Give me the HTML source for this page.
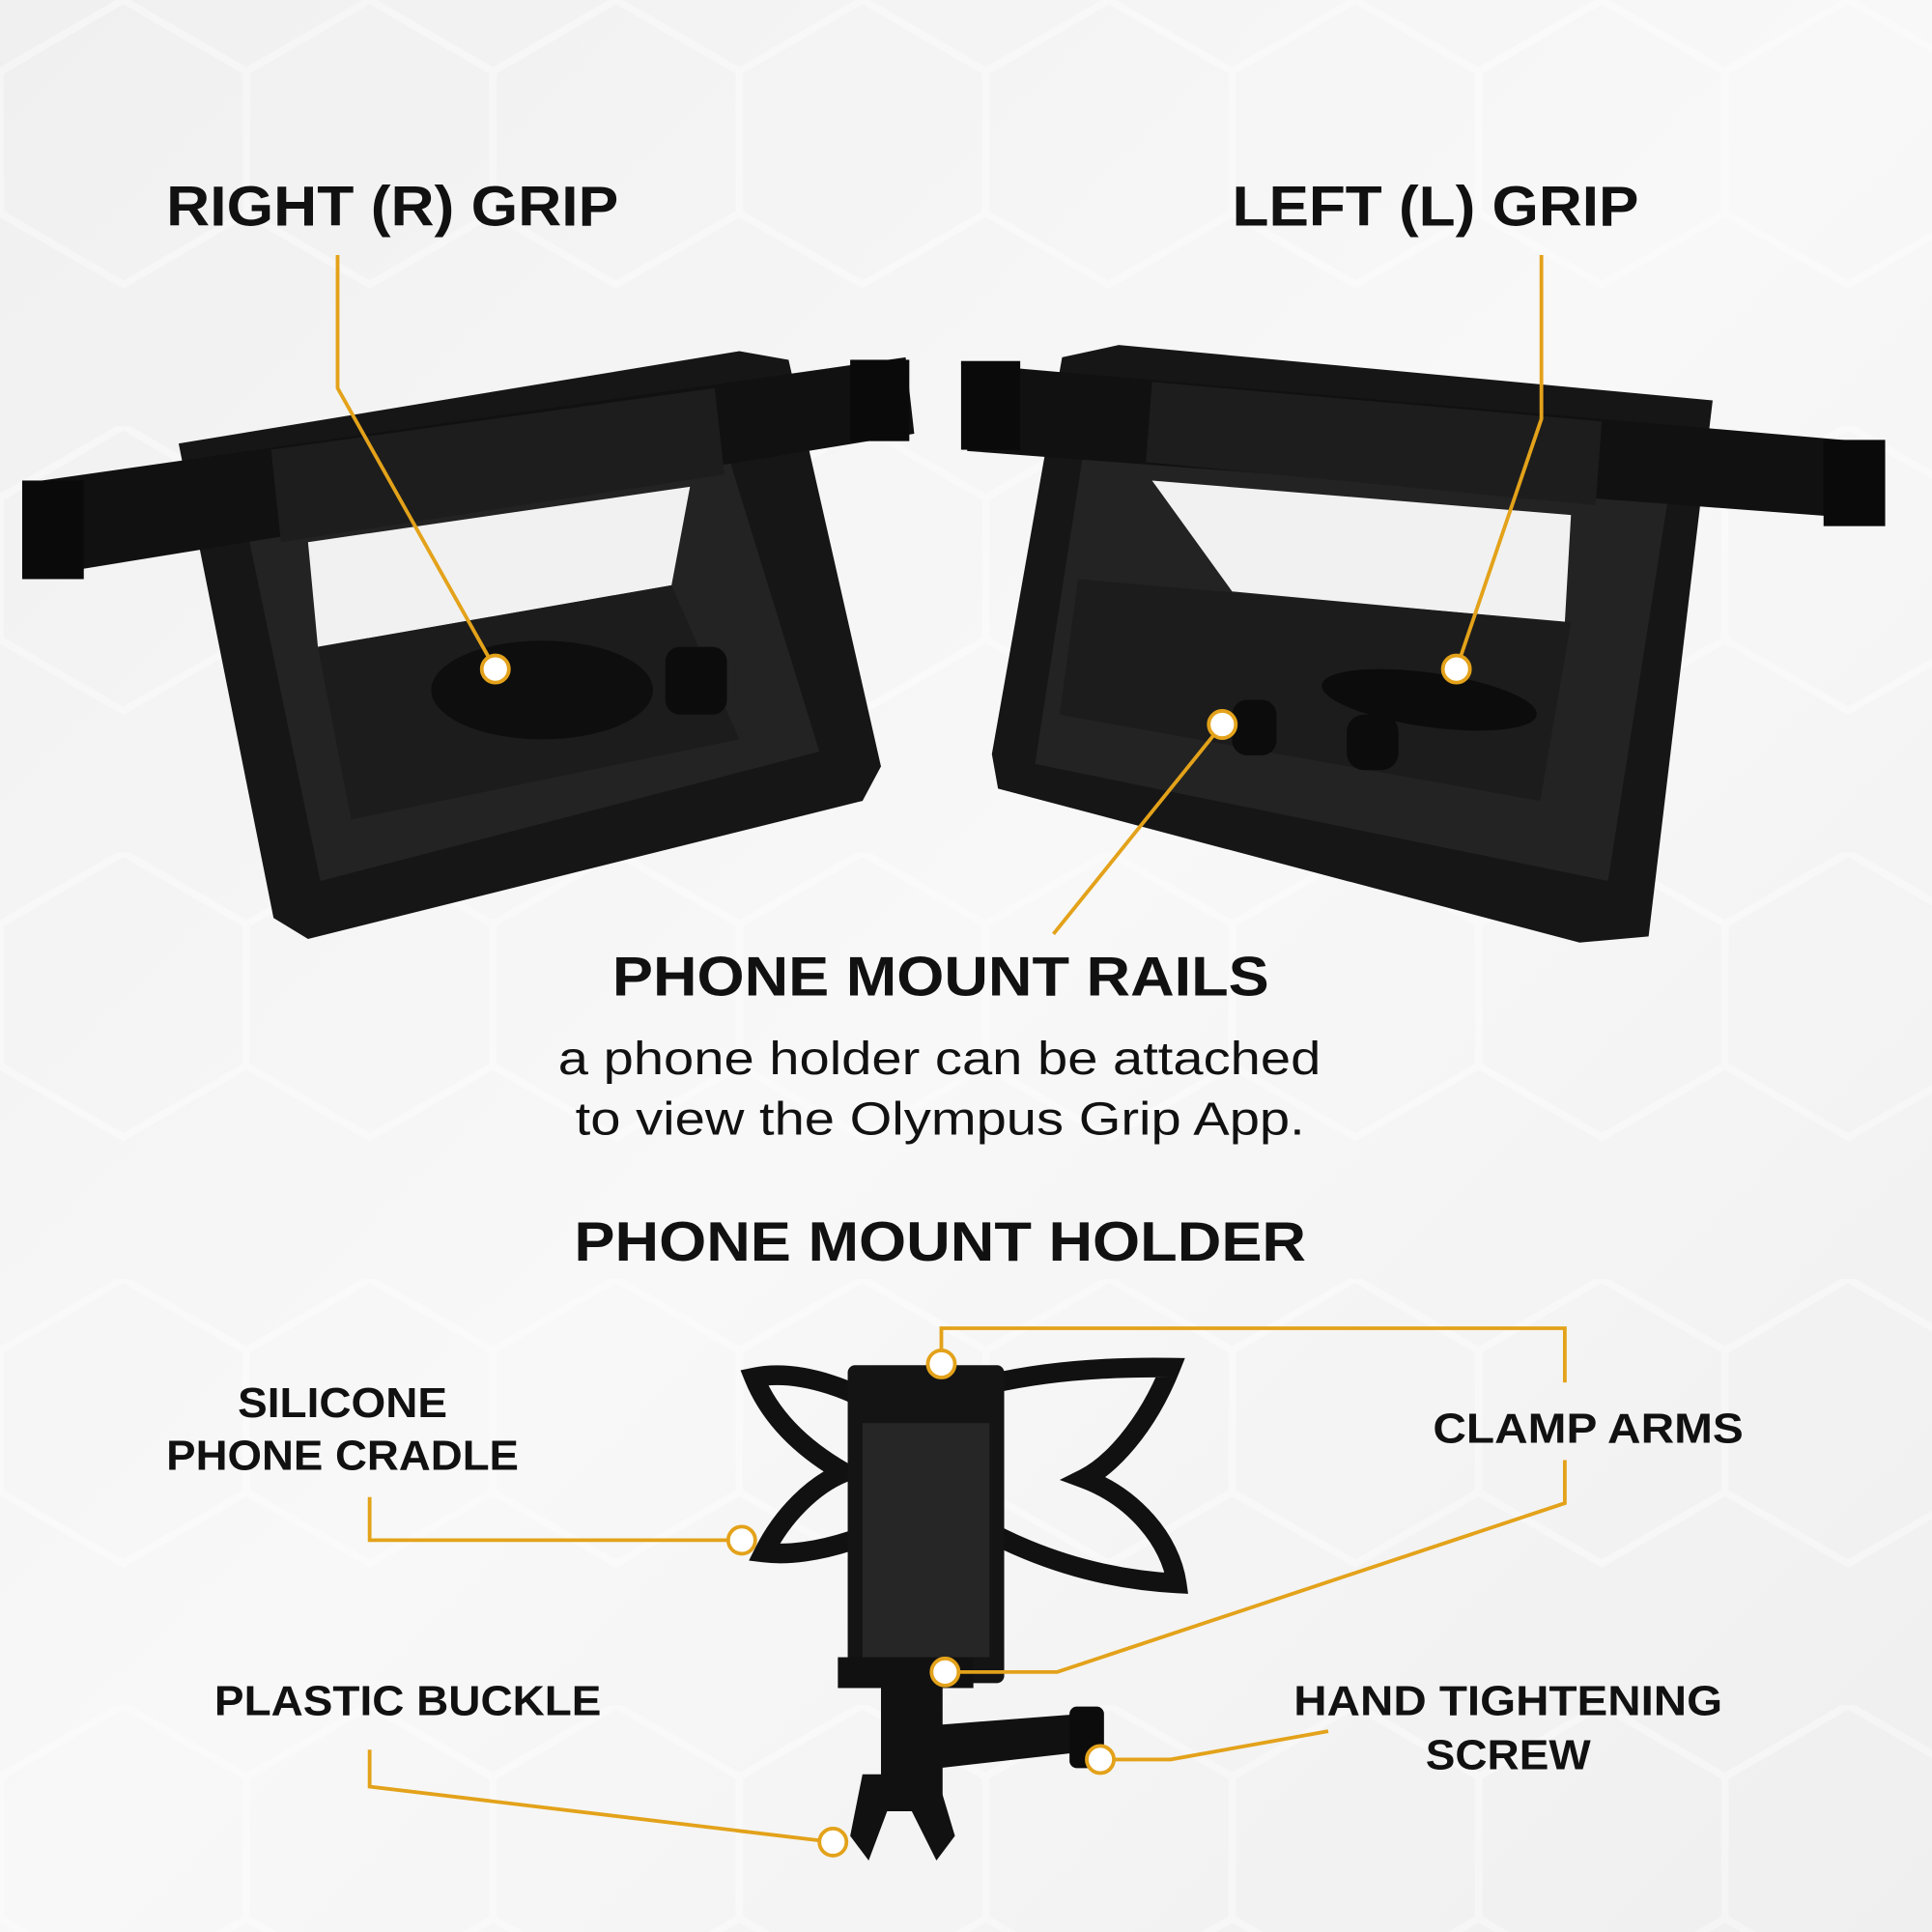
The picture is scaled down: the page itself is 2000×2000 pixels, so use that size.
<!DOCTYPE html>
<html><head><meta charset="utf-8"><style>
html,body{margin:0;padding:0;background:#f4f4f4;}
svg{display:block;}
.h{font-family:"Liberation Sans",sans-serif;font-weight:bold;fill:#111;}
.r{font-family:"Liberation Sans",sans-serif;fill:#111;}
.ln{fill:none;stroke:#e3a21a;stroke-width:3;}
.dot{fill:#fff;stroke:#e3a21a;stroke-width:3;}
</style></head><body>
<svg width="2000" height="2000" viewBox="0 0 1568 1568" xmlns="http://www.w3.org/2000/svg">
<defs>
<linearGradient id="bg" x1="0" y1="0" x2="1" y2="1">
<stop offset="0" stop-color="#f0f0f0"/><stop offset="0.5" stop-color="#f8f8f8"/><stop offset="1" stop-color="#efefef"/></linearGradient>
<pattern id="hex" width="200" height="346" patternUnits="userSpaceOnUse">
<path d="M100 0 L200 58 L200 173 L100 231 L0 173 L0 58 Z" fill="none" stroke="#ffffff" stroke-width="6"/>
</pattern>
</defs>
<rect width="1568" height="1568" fill="url(#bg)"/>
<rect width="1568" height="1568" fill="url(#hex)" opacity="0.35"/>

<!-- Right grip device (left) -->
<polygon points="145,360 600,285 640,292 715,622 700,650 250,762 222,745" fill="#161616"/>
<polygon points="190,380 575,318 665,610 260,715" fill="#232323"/>
<polygon points="250,440 560,395 545,475 258,525" fill="#f1f1f1"/>
<polygon points="258,525 545,475 600,600 285,665" fill="#1c1c1c"/>
<ellipse cx="440" cy="560" rx="90" ry="40" fill="#0e0e0e"/>
<rect x="540" y="525" width="50" height="55" rx="12" fill="#0c0c0c"/>
<polygon points="20,392 735,290 742,352 28,468" fill="#111"/>
<polygon points="220,365 580,315 588,385 228,440" fill="#1d1d1d"/>
<rect x="18" y="390" width="50" height="80" fill="#0a0a0a"/>
<rect x="690" y="292" width="48" height="66" fill="#0a0a0a"/>

<!-- Left grip device (right) -->
<polygon points="862,290 908,280 1390,325 1338,760 1282,765 810,640 805,612" fill="#161616"/>
<polygon points="885,330 1360,365 1305,715 840,620" fill="#232323"/>
<polygon points="935,390 1275,418 1270,505 1000,480" fill="#f1f1f1"/>
<polygon points="875,470 1275,505 1250,650 860,580" fill="#1c1c1c"/>
<ellipse cx="1160" cy="568" rx="88" ry="22" fill="#0c0c0c" transform="rotate(8 1160 568)"/>
<rect x="1000" y="568" width="36" height="45" rx="12" fill="#0c0c0c"/>
<rect x="1093" y="580" width="42" height="45" rx="14" fill="#0c0c0c"/>
<polygon points="780,295 1530,360 1525,422 785,366" fill="#111"/>
<polygon points="935,310 1300,342 1295,410 930,375" fill="#1d1d1d"/>
<rect x="780" y="293" width="48" height="72" fill="#0a0a0a"/>
<rect x="1480" y="357" width="50" height="70" fill="#0a0a0a"/>

<!-- Phone holder -->
<path d="M612,1118 C650,1110 700,1130 725,1150 C760,1135 820,1108 950,1110 C930,1160 900,1190 880,1200 C920,1215 950,1250 955,1285 C860,1280 790,1240 760,1215 C720,1245 660,1265 620,1260 C635,1230 660,1205 685,1195 C650,1175 625,1150 612,1118 Z" fill="none" stroke="#111" stroke-width="16"/>
<rect x="688" y="1108" width="127" height="258" rx="6" fill="#141414"/>
<rect x="700" y="1155" width="103" height="190" fill="#262626"/>
<rect x="715" y="1355" width="50" height="105" fill="#111"/>
<rect x="680" y="1345" width="110" height="25" fill="#111"/>
<polygon points="760,1400 890,1390 895,1420 762,1435" fill="#111"/>
<rect x="868" y="1385" width="28" height="50" rx="6" fill="#0c0c0c"/>
<path d="M700,1440 L760,1440 L775,1490 L760,1510 L740,1470 L720,1470 L705,1510 L690,1490 Z" fill="#111"/>

<!-- connectors -->
<polyline class="ln" points="274,207 274,315 402,543"/>
<circle class="dot" cx="402" cy="543" r="11"/>
<polyline class="ln" points="1251,207 1251,340 1182,543"/>
<circle class="dot" cx="1182" cy="543" r="11"/>
<polyline class="ln" points="855,758 992,588"/>
<circle class="dot" cx="992" cy="588" r="11"/>
<polyline class="ln" points="764,1107 764,1078 1270,1078 1270,1122"/>
<circle class="dot" cx="764" cy="1107" r="11"/>
<polyline class="ln" points="1270,1185 1270,1220 858,1357 767,1357"/>
<circle class="dot" cx="767" cy="1357" r="11"/>
<polyline class="ln" points="300,1215 300,1250 602,1250"/>
<circle class="dot" cx="602" cy="1250" r="11"/>
<polyline class="ln" points="300,1420 300,1450 676,1495"/>
<circle class="dot" cx="676" cy="1495" r="11"/>
<polyline class="ln" points="1078,1405 950,1428 893,1428"/>
<circle class="dot" cx="893" cy="1428" r="11"/>

<!-- text -->
<text class="h" x="135" y="183" font-size="46" textLength="367" lengthAdjust="spacingAndGlyphs">RIGHT (R) GRIP</text>
<text class="h" x="1000" y="183" font-size="46" textLength="330" lengthAdjust="spacingAndGlyphs">LEFT (L) GRIP</text>
<text class="h" x="497" y="808" font-size="45" textLength="533" lengthAdjust="spacingAndGlyphs">PHONE MOUNT RAILS</text>
<text class="r" x="453" y="872" font-size="38" textLength="619" lengthAdjust="spacingAndGlyphs">a phone holder can be attached</text>
<text class="r" x="467" y="921" font-size="38" textLength="592" lengthAdjust="spacingAndGlyphs">to view the Olympus Grip App.</text>
<text class="h" x="466" y="1023" font-size="45" textLength="594" lengthAdjust="spacingAndGlyphs">PHONE MOUNT HOLDER</text>
<text class="h" x="193" y="1150" font-size="34" textLength="170" lengthAdjust="spacingAndGlyphs">SILICONE</text>
<text class="h" x="135" y="1193" font-size="34" textLength="286" lengthAdjust="spacingAndGlyphs">PHONE CRADLE</text>
<text class="h" x="1163" y="1171" font-size="34" textLength="252" lengthAdjust="spacingAndGlyphs">CLAMP ARMS</text>
<text class="h" x="174" y="1392" font-size="34" textLength="314" lengthAdjust="spacingAndGlyphs">PLASTIC BUCKLE</text>
<text class="h" x="1050" y="1392" font-size="34" textLength="348" lengthAdjust="spacingAndGlyphs">HAND TIGHTENING</text>
<text class="h" x="1157" y="1436" font-size="34" textLength="134" lengthAdjust="spacingAndGlyphs">SCREW</text>
</svg>
</body></html>
